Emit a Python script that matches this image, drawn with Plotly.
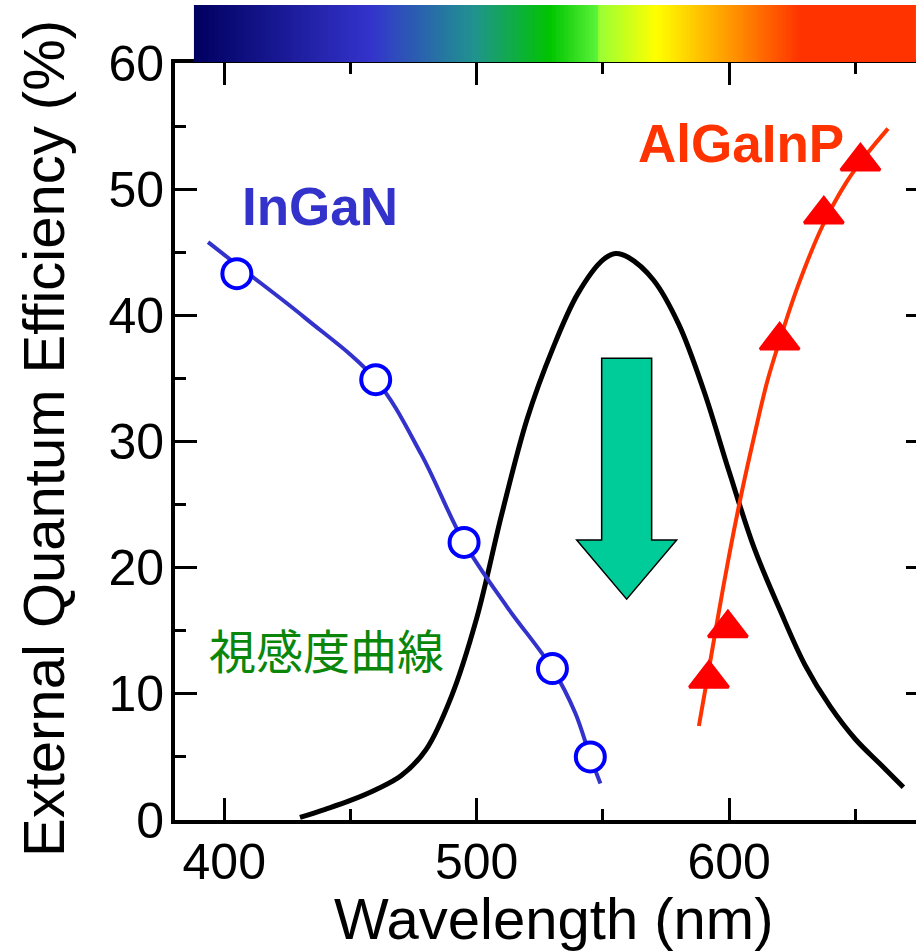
import plotly.graph_objects as go

# ---------------- data ----------------
ingan_wl = [405, 460, 495, 530, 545]
ingan_eqe = [43.3, 34.9, 22.0, 12.0, 5.0]

ingan_fit_wl = [393.6, 407, 432, 460, 478, 495, 512, 530, 539, 545, 549]
ingan_fit_eqe = [45.8, 43.7, 39.8, 34.9, 29.0, 22.0, 16.9, 12.0, 8.5, 5.0, 2.9]

algainp_wl = [592.0, 599.5, 620.0, 637.5, 652.0]
algainp_eqe = [11.2, 15.2, 38.0, 48.0, 52.2]

algainp_fit_wl = [588, 592, 596, 600, 605, 610, 615, 620, 627, 637, 646.6, 654.6, 662.9]
algainp_fit_eqe = [7.45, 12.0, 16.6, 21.0, 26.0, 30.5, 34.7, 38.0, 42.2, 47.1, 50.6, 52.8, 54.8]

vis_wl = [430, 440, 450, 460, 470, 480, 490, 500, 510, 520, 530, 540, 550, 555, 560,
          570, 580, 590, 600, 610, 620, 630, 640, 650, 660, 669]
vis_val = [0.2, 0.85, 1.55, 2.4, 3.5, 5.6, 9.8, 16.0, 24.3, 31.8, 37.3, 41.7, 44.4, 44.9, 44.6,
           42.8, 39.3, 34.0, 27.6, 21.5, 16.7, 12.3, 9.0, 6.4, 4.4, 2.6]

x_ticks = [400, 500, 600]
y_ticks = [0, 10, 20, 30, 40, 50, 60]

# spectrum strip colour stops (wavelength, colour)
spectrum_wl = [388, 458, 499, 529, 548, 548.6, 571, 600, 628, 674]
spectrum_col = ["#000060", "#3333cc", "#20938f", "#00c400", "#5cf43a", "#99ff33",
                "#ffff00", "#ff9900", "#ff3300", "#ff3300"]
strip_grid = [388.5 + i for i in range(286)]

X_RANGE = [380.5, 674.0]
Y_RANGE = [0, 60]

FONT = "Liberation Sans, Arial, sans-serif"

lo, hi = spectrum_wl[0], spectrum_wl[-1]
colorscale = [[(w - lo) / (hi - lo), c] for w, c in zip(spectrum_wl, spectrum_col)]

fig = go.Figure()

# spectrum strip on top
fig.add_trace(go.Heatmap(
    x=strip_grid, y=[0.5], z=[strip_grid], xaxis="x", yaxis="y3",
    colorscale=colorscale, zmin=lo, zmax=hi, showscale=False, hoverinfo="skip",
))

# photopic curve
fig.add_trace(go.Scatter(x=vis_wl, y=vis_val, mode="lines",
                         line=dict(color="black", width=5, shape="spline"),
                         showlegend=False))
# fits
fig.add_trace(go.Scatter(x=ingan_fit_wl, y=ingan_fit_eqe, mode="lines",
                         line=dict(color="#3333cc", width=4, shape="spline"),
                         showlegend=False))
fig.add_trace(go.Scatter(x=algainp_fit_wl, y=algainp_fit_eqe, mode="lines",
                         line=dict(color="#ff3300", width=4, shape="spline"),
                         showlegend=False))
# markers
fig.add_trace(go.Scatter(x=ingan_wl, y=ingan_eqe, mode="markers",
                         marker=dict(symbol="circle", size=29, color="white",
                                     line=dict(color="#0000ff", width=4)),
                         showlegend=False))
fig.add_trace(go.Scatter(x=algainp_wl, y=algainp_eqe, mode="markers",
                         marker=dict(symbol="triangle-up", size=34, color="#ff0000",
                                     line=dict(color="#ff0000", width=3)),
                         showlegend=False))

# hidden right axis just to show the right-hand ticks (line is off the canvas)
fig.add_trace(go.Scatter(x=[None], y=[None], xaxis="x", yaxis="y2", showlegend=False))

# green arrow
fig.add_shape(type="path", xref="x", yref="y",
              path="M 549.5,36.6 L 569.3,36.6 L 569.3,22.2 L 579.2,22.2 L 559.4,17.5 "
                   "L 539.6,22.2 L 549.5,22.2 Z",
              fillcolor="#00cc99", line=dict(color="black", width=1.5), layer="above")

fig.add_annotation(x=437.9, y=48.6, text="<b>InGaN</b>", showarrow=False,
                   font=dict(family=FONT, size=53, color="#3333cc"))
fig.add_annotation(x=604.7, y=53.6, text="<b>AlGaInP</b>", showarrow=False,
                   font=dict(family=FONT, size=53, color="#ff3300"))
fig.add_annotation(x=440.7, y=13.6, text="視感度曲線", showarrow=False,
                   font=dict(family="Noto Sans CJK JP", size=47, color="#0a870a"))

# axis titles
fig.add_annotation(xref="paper", yref="paper", x=(553 - 175) / 741, y=(820 - 918) / 815,
                   xanchor="center", yanchor="middle", showarrow=False,
                   text="Wavelength (nm)", font=dict(family=FONT, size=58, color="black"))
fig.add_annotation(xref="paper", yref="paper", x=(43 - 175) / 741, y=(820 - 439) / 815,
                   xanchor="center", yanchor="middle", showarrow=False, textangle=-90,
                   text="External Quantum Efficiency (%)",
                   font=dict(family=FONT, size=58, color="black"))

Y_TOP = (820 - 63) / 815

fig.update_layout(
    width=916, height=952,
    margin=dict(l=175, r=0, t=5, b=132, autoexpand=False),
    paper_bgcolor="white", plot_bgcolor="white",
    font=dict(family=FONT, size=50, color="black"),
    showlegend=False,
    xaxis=dict(
        range=X_RANGE, tickvals=x_ticks, ticks="inside", ticklen=22, tickwidth=3,
        tickcolor="black", showline=True, linewidth=4, linecolor="black",
        mirror="ticks", showgrid=False, zeroline=False, anchor="y",
        ticklabelstandoff=-5, automargin=False,
        minor=dict(ticks="inside", ticklen=11, tickwidth=3, tickcolor="black",
                   dtick=50, tick0=400),
        tickfont=dict(size=50),
    ),
    yaxis=dict(
        domain=[0, Y_TOP], range=Y_RANGE, tickvals=y_ticks, ticks="inside",
        ticklen=22, tickwidth=3, tickcolor="black", showline=True, linewidth=4,
        linecolor="black", mirror=False, showgrid=False, zeroline=False,
        ticklabelstandoff=-3, automargin=False,
        minor=dict(ticks="inside", ticklen=11, tickwidth=3, tickcolor="black",
                   dtick=5, tick0=0),
        tickfont=dict(size=50),
    ),
    yaxis2=dict(
        domain=[0, Y_TOP], range=Y_RANGE, overlaying="y", side="right", anchor="x",
        tickvals=y_ticks, ticks="inside", ticklen=10, tickwidth=3, tickcolor="black",
        showline=False, showgrid=False, zeroline=False, showticklabels=False,
        automargin=False,
    ),
    yaxis3=dict(
        domain=[(820 - 62) / 815, 1.0], range=[0, 1], anchor="x",
        showticklabels=False, showgrid=False, zeroline=False, showline=False, ticks="",
        automargin=False,
    ),
)

fig.write_html("out.html")
